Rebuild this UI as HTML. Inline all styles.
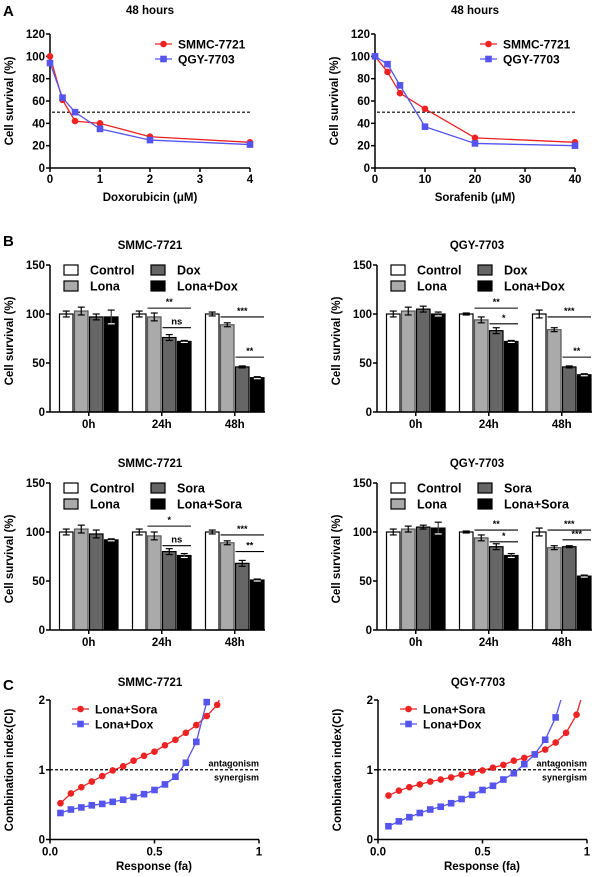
<!DOCTYPE html>
<html><head><meta charset="utf-8"><style>
html,body{margin:0;padding:0;background:#fff;}
svg{display:block;font-family:"Liberation Sans",Arial,sans-serif;font-weight:bold;}
</style></head><body>
<svg id="fig" width="600" height="877" viewBox="0 0 600 877" xmlns="http://www.w3.org/2000/svg"></svg>
<script>
// ---------- Panel A data ----------
const doxDoses = [0, 0.25, 0.5, 1, 2, 4];
const doxSMMC = [100, 61, 42, 40, 28, 23];
const doxQGY = [94, 63, 50, 35, 25, 21];
const soraDoses = [0, 2.5, 5, 10, 20, 40];
const soraSMMC = [100, 86, 67, 53, 27, 23];
const soraQGY = [100, 93, 74, 37, 22, 20];
const aTicksDox = [0, 1, 2, 3, 4];
const aTicksSora = [0, 10, 20, 30, 40];
const aTicksY = [0, 20, 40, 60, 80, 100, 120];
// ---------- Panel B data ----------
const bGroups = ["0h", "24h", "48h"];
const bTicksY = [0, 50, 100, 150];
const bDoxSMMC = [[100,103,97,97],[100,97,76,72],[100,89,46,35]];
const bDoxSMMCErr = [[3,4,3,7],[3,4,3,1],[2,2,1,1]];
const bDoxQGY = [[100,103,105,100],[100,94,83,72],[100,84,46,38]];
const bDoxQGYErr = [[3,4,3,2],[1,3,3,1],[4,2,1,1]];
const bSoraSMMC = [[100,103,98,92],[100,96,80,76],[100,89,68,51]];
const bSoraSMMCErr = [[3,4,4,1],[3,4,3,2],[2,2,3,1]];
const bSoraQGY = [[100,103,105,104],[100,94,85,76],[100,84,85,55]];
const bSoraQGYErr = [[3,3,2,6],[1,3,3,2],[4,2,1,1]];
// annotations: [group, fromBar, toBar, value, label]
const sigDoxSMMC = [[1,1,3,106,"**"],[1,2,3,86,"ns"],[2,1,3,97,"***"],[2,2,3,56,"**"]];
const sigDoxQGY = [[1,1,3,106,"**"],[1,2,3,90,"*"],[2,1,3,97,"***"],[2,2,3,56,"**"]];
const sigSoraSMMC = [[1,1,3,106,"*"],[1,2,3,86,"ns"],[2,1,3,97,"***"],[2,2,3,80,"**"]];
const sigSoraQGY = [[1,1,3,102,"**"],[1,2,3,90,"*"],[2,1,3,102,"***"],[2,2,3,92,"***"]];
// ---------- Panel C data ----------
const faSoraL = [0.05,0.1,0.15,0.2,0.25,0.3,0.35,0.4,0.45,0.5,0.55,0.6,0.65,0.7,0.75,0.8];
const ciSoraL = [0.52,0.66,0.75,0.83,0.91,0.99,1.05,1.13,1.2,1.26,1.35,1.43,1.53,1.64,1.77,1.93];
const faDoxL = [0.05,0.1,0.15,0.2,0.25,0.3,0.35,0.4,0.45,0.5,0.55,0.6,0.65,0.7,0.75];
const ciDoxL = [0.38,0.43,0.46,0.49,0.51,0.54,0.57,0.61,0.65,0.71,0.79,0.9,1.1,1.4,1.97];
const faSoraR = [0.05,0.1,0.15,0.2,0.25,0.3,0.35,0.4,0.45,0.5,0.55,0.6,0.65,0.7,0.75,0.8,0.85,0.9,0.95];
const ciSoraR = [0.63,0.7,0.75,0.79,0.83,0.86,0.89,0.93,0.96,0.99,1.03,1.07,1.13,1.17,1.22,1.29,1.39,1.53,1.79];
const faDoxR = [0.05,0.1,0.15,0.2,0.25,0.3,0.35,0.4,0.45,0.5,0.55,0.6,0.65,0.7,0.75,0.8,0.85];
const ciDoxR = [0.19,0.26,0.32,0.38,0.43,0.47,0.52,0.58,0.64,0.71,0.77,0.86,0.95,1.08,1.22,1.43,1.75];
const cTicksX = [0, 0.5, 1];
const cTickLabelsX = ["0.0", "0.5", "1"];
const cTicksY = [0, 1, 2];

const NS = "http://www.w3.org/2000/svg";
const svg = document.getElementById("fig");
const RED = "#ee2222", BLUE = "#5555ee";
function mk(tag, attrs, parent, name, inter) {
  const e = document.createElementNS(NS, tag);
  for (const k in attrs) e.setAttribute(k, attrs[k]);
  
  
  (parent || svg).appendChild(e);
  return e;
}
function txt(x, y, s, size, anchor, name, parent, extra) {
  const t = mk("text", Object.assign({x: x, y: y, "font-size": size, "text-anchor": anchor || "middle", fill: "#000"}, extra || {}), parent, name, false);
  t.textContent = s;
  return t;
}
function line(x1, y1, x2, y2, name, stroke, w, dash, parent) {
  const a = {x1: x1, y1: y1, x2: x2, y2: y2, stroke: stroke || "#000", "stroke-width": w || 1.5};
  if (dash) a["stroke-dasharray"] = dash;
  return mk("line", a, parent, name, false);
}
function marker(g, x, y, type, color, name) {
  if (type === "c") mk("circle", {cx: x, cy: y, r: 3.3, fill: color}, g, name, false);
  else mk("rect", {x: x - 3.3, y: y - 3.3, width: 6.6, height: 6.6, fill: color}, g, name, false);
}
function axesY(g, ax, yScale, ticks, labels, name) {
  line(ax, yScale(ticks[ticks.length - 1]), ax, yScale(ticks[0]), name + "-y-axis", "#000", 1.5, null, g);
  ticks.forEach((t, i) => {
    line(ax - 4, yScale(t), ax, yScale(t), name + "-y-tick", "#000", 1.5, null, g);
    txt(ax - 5, yScale(t) + 4, labels ? labels[i] : String(t), 11.5, "end", name + "-y-tick-label", g);
  });
}
function ylabel(g, x, y, s, name) {
  txt(0, 0, s, 11.5, "middle", name, g, {transform: "translate(" + x + "," + y + ") rotate(-90)"});
}
function series(g, xs, ys, xS, yS, color, type, name, extendTo) {
  const pts = xs.map((x, i) => xS(x) + "," + yS(ys[i]));
  if (extendTo) pts.push(xS(extendTo[0]) + "," + yS(extendTo[1]));
  mk("polyline", {points: pts.join(" "), fill: "none", stroke: color, "stroke-width": 1.3}, g, name + "-line", false);
  xs.forEach((x, i) => marker(g, xS(x), yS(ys[i]), type, color, name + "-point"));
}
function legendLine(g, x, y, color, type, label, name) {
  line(x, y, x + 17, y, name + "-swatch", color, 1.3, null, g);
  marker(g, x + 8.5, y, type, color, name + "-marker");
  txt(x + 23, y + 4.5, label, 12, "start", name + "-label", g);
}

// ---------- Panel A ----------
txt(3, 16, "A", 15, "start", "panel-a-letter");
function panelA(ax, xMax, doses, s1, s2, xticks, xlabel, name) {
  const g = mk("g", {}, svg, name, false);
  const x0 = ax, x1 = ax + 200, y0 = 168, y1 = 34;
  const xS = v => x0 + (v / xMax) * (x1 - x0);
  const yS = v => y0 - (v / 120) * (y0 - y1);
  txt(ax + 100, 14, "48 hours", 11.5, "middle", name + "-title", g);
  axesY(g, ax, yS, aTicksY, null, name);
  line(ax, y0, x1, y0, name + "-x-axis", "#000", 1.5, null, g);
  xticks.forEach(t => {
    line(xS(t), y0, xS(t), y0 + 4, name + "-x-tick", "#000", 1.5, null, g);
    txt(xS(t), y0 + 15, String(t), 11.5, "middle", name + "-x-tick-label", g);
  });
  txt(ax + 100, 201, xlabel, 11.5, "middle", name + "-x-title", g);
  ylabel(g, ax - 37, 101, "Cell survival (%)", name + "-y-title");
  line(ax + 2, yS(50), x1, yS(50), name + "-ic50-line", "#000", 1.2, "3,2", g);
  series(g, doses, s1, xS, yS, RED, "c", name + "-smmc");
  series(g, doses, s2, xS, yS, BLUE, "s", name + "-qgy");
  legendLine(g, ax + 105, 44, RED, "c", "SMMC-7721", name + "-legend-smmc");
  legendLine(g, ax + 105, 59, BLUE, "s", "QGY-7703", name + "-legend-qgy");
}
panelA(50, 4, doxDoses, doxSMMC, doxQGY, aTicksDox, "Doxorubicin (\u03bcM)", "chart-a-doxorubicin");
panelA(375, 40, soraDoses, soraSMMC, soraQGY, aTicksSora, "Sorafenib (\u03bcM)", "chart-a-sorafenib");

// ---------- Panel B ----------
txt(3, 246, "B", 15, "start", "panel-b-letter");
const FILLS = ["#ffffff", "#aaaaaa", "#666666", "#000000"];
function panelB(ax, top, title, vals, errs, sigs, drug, name) {
  const g = mk("g", {}, svg, name, false);
  const y0 = top + 167, y1 = top + 20;
  const yS = v => y0 - (v / 150) * (y0 - y1);
  const bw = 13.5, step = 15, gstep = 73, off = 9.5;
  const barX = (gi, bi) => ax + off + gi * gstep + bi * step;
  txt(ax + 100, top + 4, title, 11.5, "middle", name + "-title", g);
  vals.forEach((grp, gi) => grp.forEach((v, bi) => {
    const x = barX(gi, bi);
    mk("rect", {x: x, y: yS(v), width: bw, height: y0 - yS(v), fill: FILLS[bi], stroke: bi === 1 ? "#555" : "#000", "stroke-width": 1.2}, g, name + "-bar-" + bGroups[gi] + "-" + bi, false);
    const e = errs[gi][bi], cx = x + bw / 2;
    line(cx, yS(v + e), cx, yS(v - e), name + "-error-bar", bi === 3 ? "#444" : "#000", 1.2, null, g);
    line(cx - 3.5, yS(v + e), cx + 3.5, yS(v + e), name + "-error-cap", "#000", 1.2, null, g);
    line(cx - 3.5, yS(v - e), cx + 3.5, yS(v - e), name + "-error-cap", bi === 3 ? "#fff" : "#000", 1.2, null, g);
  }));
  axesY(g, ax, yS, bTicksY, null, name);
  line(ax, y0, ax + 215, y0, name + "-x-axis", "#000", 1.5, null, g);
  bGroups.forEach((lab, gi) => {
    const cx = barX(gi, 0) + 1.5 * step + bw / 2;
    line(cx, y0, cx, y0 + 4, name + "-x-tick", "#000", 1.5, null, g);
    txt(cx, y0 + 16, lab, 11.5, "middle", name + "-x-tick-label", g);
  });
  ylabel(g, ax - 37, top + 96, "Cell survival (%)", name + "-y-title");
  sigs.forEach(s => {
    const xa = barX(s[0], s[1]), xb = barX(s[0], s[2]) + bw, y = yS(s[3]);
    line(xa, y, xb, y, name + "-sig-line", "#000", 1.1, null, g);
    txt((xa + xb) / 2, y - 3, s[4], s[4] === "ns" ? 9.5 : 9, "middle", name + "-sig-label", g);
  });
  const labels = ["Control", "Lona", drug, "Lona+" + drug];
  labels.forEach((l, i) => {
    const lx = ax + 14 + (i >= 2 ? 87 : 0), ly = top + 25 + (i % 2) * 16;
    mk("rect", {x: lx, y: ly - 5, width: 14, height: 10, fill: FILLS[i], stroke: "#000", "stroke-width": 1.2}, g, name + "-legend-swatch", false);
    txt(lx + 26, ly + 4.5, l, 12.5, "start", name + "-legend-label", g);
  });
}
panelB(50, 245, "SMMC-7721", bDoxSMMC, bDoxSMMCErr, sigDoxSMMC, "Dox", "chart-b-dox-smmc");
panelB(377, 245, "QGY-7703", bDoxQGY, bDoxQGYErr, sigDoxQGY, "Dox", "chart-b-dox-qgy");
panelB(50, 463, "SMMC-7721", bSoraSMMC, bSoraSMMCErr, sigSoraSMMC, "Sora", "chart-b-sora-smmc");
panelB(377, 463, "QGY-7703", bSoraQGY, bSoraQGYErr, sigSoraQGY, "Sora", "chart-b-sora-qgy");

// ---------- Panel C ----------
txt(3, 690, "C", 15, "start", "panel-c-letter");
function panelC(ax, title, fs, cs, fd, cd, extS, extD, name) {
  const g = mk("g", {}, svg, name, false);
  const x1 = ax + 209, y0 = 839.5, y1 = 700;
  const xS = v => ax + v * (x1 - ax);
  const yS = v => y0 - (v / 2) * (y0 - y1);
  txt(ax + 100, 686, title, 11.5, "middle", name + "-title", g);
  axesY(g, ax, yS, cTicksY, null, name);
  line(ax, y0, x1, y0, name + "-x-axis", "#000", 1.5, null, g);
  cTicksX.forEach((t, i) => {
    line(xS(t), y0, xS(t), y0 + 4, name + "-x-tick", "#000", 1.5, null, g);
    txt(xS(t), y0 + 16, cTickLabelsX[i], 11.5, "middle", name + "-x-tick-label", g);
  });
  txt(ax + 104, 870, "Response (fa)", 11.5, "middle", name + "-x-title", g);
  ylabel(g, ax - 37, 770, "Combination index(CI)", name + "-y-title");
  line(ax, yS(1), x1, yS(1), name + "-ci1-line", "#000", 1.2, "3,2", g);
  txt(x1, yS(1) - 3.5, "antagonism", 9, "end", name + "-antagonism-label", g);
  txt(x1, yS(1) + 10.5, "synergism", 9, "end", name + "-synergism-label", g);
  series(g, fs, cs, xS, yS, RED, "c", name + "-lona-sora", extS);
  series(g, fd, cd, xS, yS, BLUE, "s", name + "-lona-dox", extD);
  legendLine(g, ax + 22, 709, RED, "c", "Lona+Sora", name + "-legend-sora");
  legendLine(g, ax + 22, 724, BLUE, "s", "Lona+Dox", name + "-legend-dox");
}
panelC(50, "SMMC-7721", faSoraL, ciSoraL, faDoxL, ciDoxL, [0.81, 2], null, "chart-c-smmc");
panelC(378, "QGY-7703", faSoraR, ciSoraR, faDoxR, ciDoxR, [0.97, 2], [0.875, 2], "chart-c-qgy");
</script>
</body></html>
